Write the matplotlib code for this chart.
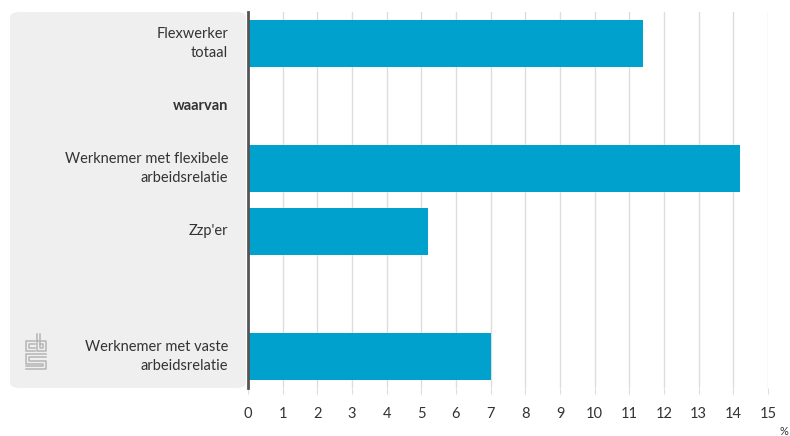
import matplotlib.pyplot as plt
from matplotlib.patches import FancyBboxPatch

plt.rcParams['font.family'] = ['Lato', 'DejaVu Sans']

# categories top to bottom, empty slots have no bar
labels = ['Flexwerker\ntotaal', 'waarvan', 'Werknemer met flexibele\narbeidsrelatie',
          "Zzp'er", '', 'Werknemer met vaste\narbeidsrelatie']
values = [11.4, None, 14.2, 5.2, None, 7.0]
bold_labels = ['waarvan']
xticks = list(range(0, 16))

bar_color = '#00a1cd'
text_color = '#333333'
W, H = 790, 436

fig = plt.figure(figsize=(W / 100, H / 100), dpi=100)

# grey label panel
panel = FancyBboxPatch((10 / W, 1 - 388 / H), (246 - 10) / W, (388 - 12) / H,
                       boxstyle='round,pad=0,rounding_size=0.012',
                       transform=fig.transFigure, facecolor='#efefef',
                       edgecolor='none', zorder=0)
fig.patches.append(panel)

ax = fig.add_axes([248 / W, 1 - 388 / H, (768 - 248) / W, (388 - 12) / H])
ax.set_zorder(2)
ax.patch.set_alpha(0)

for i, v in enumerate(values):
    if v is not None:
        ax.barh(i, v, height=0.75, color=bar_color, zorder=3)

ax.set_ylim(len(labels) - 0.5, -0.5)
ax.set_xlim(0, 15)
ax.set_xticks(xticks)
ax.set_xticklabels([str(t) for t in xticks], fontsize=10.5, color=text_color)
ax.tick_params(axis='x', length=4, color='#dddddd', pad=10)
ax.set_yticks([])

# category labels, right aligned per line
for i, lab in enumerate(labels):
    ax.text(-0.038, i, lab, transform=ax.get_yaxis_transform(),
            ha='right', va='center', multialignment='right',
            fontsize=10.5, color=text_color, linespacing=1.45,
            fontweight='bold' if lab in bold_labels else 'normal')

ax.grid(axis='x', color='#dddddd', linewidth=1, zorder=0)
ax.set_axisbelow(True)
for s in ['top', 'right', 'bottom']:
    ax.spines[s].set_visible(False)
ax.spines['left'].set_color('#555555')
ax.spines['left'].set_linewidth(2)
ax.spines['left'].set_zorder(4)

fig.text(780 / W, 1 - 431 / H, '%', fontsize=8, color=text_color, ha='left', va='center')

# cbs logo, simple line sketch
lc = '#b5b5b5'
def fl(xs, ys):
    fig.add_artist(plt.Line2D([x / W for x in xs], [1 - y / H for y in ys],
                              transform=fig.transFigure, color=lc, linewidth=1.1))
# c
fl([35, 26, 26, 35], [341, 341, 351, 351])
fl([35, 29, 29, 35], [344, 344, 348, 348])
# b
fl([37, 37, 46, 46, 37], [334, 351, 351, 341, 341])
fl([40, 40, 43, 43, 40], [334, 348, 348, 344, 344])
# s
fl([46, 26, 26, 43, 43, 26], [354, 354, 364, 364, 366, 366])
fl([46, 29, 29, 46, 46, 26], [357, 357, 361, 361, 369, 369])

fig.savefig('out.png', dpi=100)
